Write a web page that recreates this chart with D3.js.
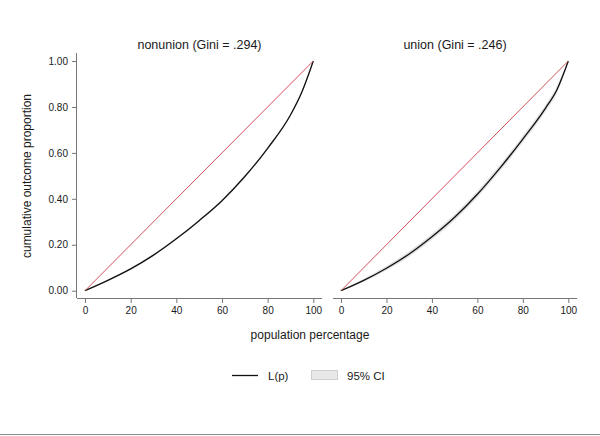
<!DOCTYPE html>
<html>
<head>
<meta charset="utf-8">
<script src="https://cdn.jsdelivr.net/npm/d3@7"></script>
<style>
  body { margin: 0; background: #fff; }
  text { font-family: "Liberation Sans", Arial, Helvetica, sans-serif; fill: #1a1a1a; }
</style>
</head>
<body>
<script>
// population percentage at which L(p) was read
var pct = [0, 10, 20, 30, 40, 50, 60, 70, 80, 90, 95, 100];

// nonunion Lorenz curve and its CI
var nonunionL  = [0, 0.045, 0.095, 0.155, 0.226, 0.305, 0.392, 0.497, 0.620, 0.765, 0.865, 1];
var nonunionLo = [0, 0.043, 0.092, 0.152, 0.223, 0.302, 0.389, 0.494, 0.617, 0.762, 0.862, 1];
var nonunionHi = [0, 0.047, 0.098, 0.158, 0.229, 0.308, 0.395, 0.500, 0.623, 0.768, 0.868, 1];

// union Lorenz curve and its CI
var unionL  = [0, 0.045, 0.098, 0.160, 0.235, 0.320, 0.420, 0.535, 0.660, 0.795, 0.875, 1];
var unionLo = [0, 0.040, 0.090, 0.150, 0.224, 0.308, 0.408, 0.523, 0.648, 0.783, 0.863, 1];
var unionHi = [0, 0.050, 0.106, 0.170, 0.246, 0.332, 0.432, 0.547, 0.672, 0.807, 0.887, 1];

var panelTitles = ["nonunion (Gini = .294)", "union (Gini = .246)"];
var xTicks = [0, 20, 40, 60, 80, 100];
var yTicks = [0, 0.2, 0.4, 0.6, 0.8, 1];

var w = 600, h = 436;

var svg = d3.select("body").append("svg").attr("width", w).attr("height", h);

var panels = [
  {title: panelTitles[0], L: nonunionL, lo: nonunionLo, hi: nonunionHi, left: 77, right: 322, yaxis: true},
  {title: panelTitles[1], L: unionL, lo: unionLo, hi: unionHi, left: 333, right: 577, yaxis: false}
];

var plotTop = 53, plotBottom = 298, pad = 8;

var y = d3.scaleLinear().domain([0, 1]).range([plotBottom - pad + 0.7, plotTop + pad]);

panels.forEach(function (p) {
  var x = d3.scaleLinear().domain([0, 100]).range([p.left + pad, p.right - pad - 0.7]);
  var g = svg.append("g");

  var rows = pct.map(function (v, i) { return {p: v, L: p.L[i], lo: p.lo[i], hi: p.hi[i]}; });

  // CI band
  g.append("path")
    .datum(rows)
    .attr("fill", "#e3e3e3")
    .attr("stroke", "#d8d8d8")
    .attr("stroke-width", 0.5)
    .attr("d", d3.area()
      .x(function (d) { return x(d.p); })
      .y0(function (d) { return y(d.lo); })
      .y1(function (d) { return y(d.hi); })
      .curve(d3.curveMonotoneX));

  // Lorenz curve
  g.append("path")
    .datum(rows)
    .attr("fill", "none")
    .attr("stroke", "#111")
    .attr("stroke-width", 1.3)
    .attr("d", d3.line()
      .x(function (d) { return x(d.p); })
      .y(function (d) { return y(d.L); })
      .curve(d3.curveMonotoneX));

  // equality line
  g.append("line")
    .attr("x1", x(0)).attr("y1", y(0))
    .attr("x2", x(100)).attr("y2", y(1))
    .attr("stroke", "#d0505c")
    .attr("stroke-width", 1);

  // x axis
  var xa = g.append("g")
    .attr("transform", "translate(0," + plotBottom + ")")
    .call(d3.axisBottom(x).tickValues(xTicks).tickSize(5).tickPadding(4).tickFormat(d3.format("d")));
  xa.select(".domain").attr("d", "M" + p.left + ",0.5H" + p.right).attr("stroke", "#777");
  xa.selectAll(".tick line").attr("stroke", "#777");
  xa.selectAll(".tick text").style("font-size", "10px");

  if (p.yaxis) {
    var ya = g.append("g")
      .attr("transform", "translate(" + p.left + ",0)")
      .call(d3.axisLeft(y).tickValues(yTicks).tickSize(5).tickPadding(4).tickFormat(d3.format(".2f")));
    ya.select(".domain").attr("d", "M-0.5," + plotTop + "V" + plotBottom).attr("stroke", "#777");
    ya.selectAll(".tick line").attr("stroke", "#777");
    ya.selectAll(".tick text").style("font-size", "10px");
  }

  g.append("text")
    .attr("x", (p.left + p.right) / 2)
    .attr("y", 49)
    .attr("text-anchor", "middle")
    .style("font-size", "12.5px")
    .text(p.title);
});

// axis titles
svg.append("text")
  .attr("transform", "translate(31,176) rotate(-90)")
  .attr("text-anchor", "middle")
  .style("font-size", "12px")
  .text("cumulative outcome proportion");

svg.append("text")
  .attr("x", 310)
  .attr("y", 339)
  .attr("text-anchor", "middle")
  .style("font-size", "12px")
  .text("population percentage");

// legend
var lg = svg.append("g");
lg.append("line").attr("x1", 232).attr("x2", 258).attr("y1", 375.5).attr("y2", 375.5)
  .attr("stroke", "#111").attr("stroke-width", 1.3);
lg.append("text").attr("x", 268).attr("y", 379.5).style("font-size", "11.5px").text("L(p)");
lg.append("rect").attr("x", 311.5).attr("y", 370.5).attr("width", 26).attr("height", 9)
  .attr("fill", "#e8e8e8").attr("stroke", "#cfcfcf").attr("stroke-width", 1);
lg.append("text").attr("x", 347).attr("y", 379.5).style("font-size", "11.5px").text("95% CI");

// bottom rule
svg.append("line").attr("x1", 0).attr("x2", w).attr("y1", 434.5).attr("y2", 434.5)
  .attr("stroke", "#8a8a8a").attr("stroke-width", 1);
</script>
</body>
</html>
